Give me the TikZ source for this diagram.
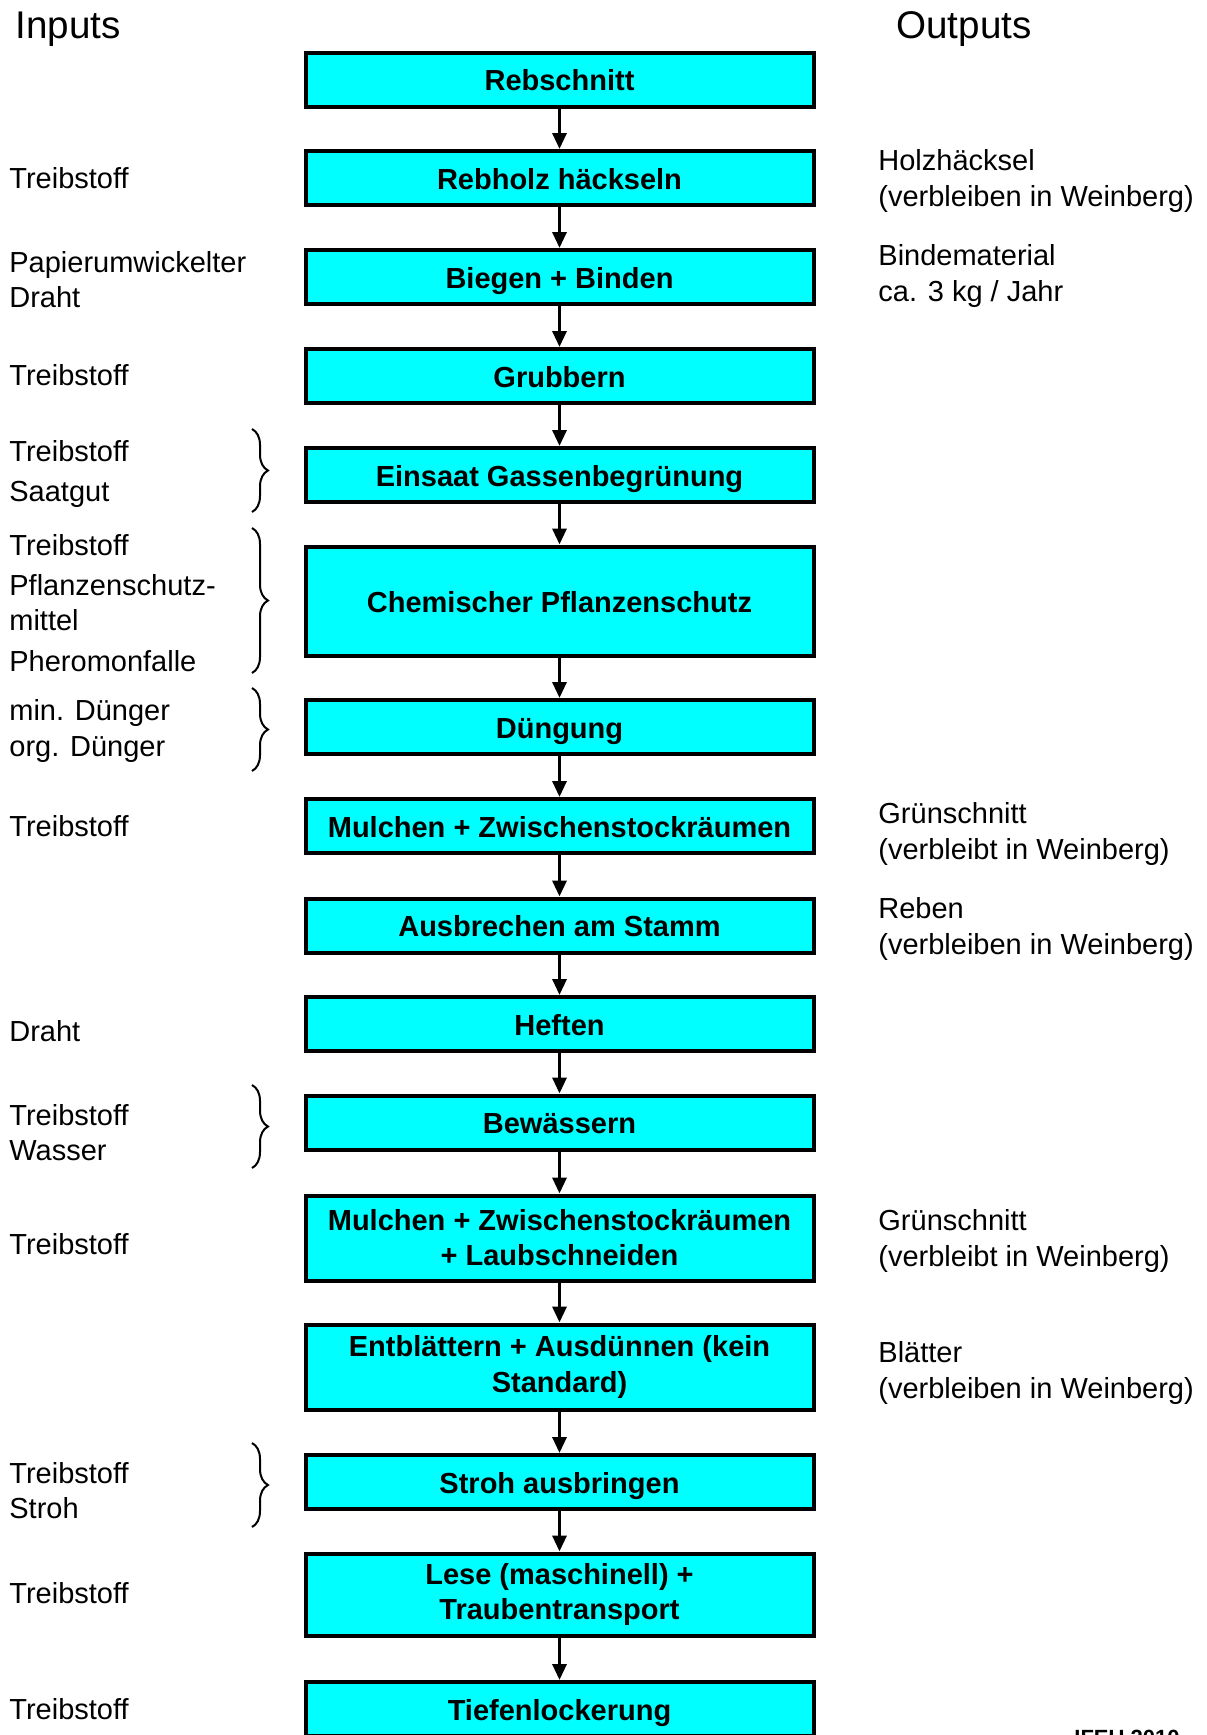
\documentclass[tikz,border=0pt]{standalone}
\usepackage{fontspec}
\setmainfont{Liberation Sans}
\usetikzlibrary{arrows.meta,decorations.pathreplacing}

\definecolor{stepcyan}{RGB}{0,255,255}
\tikzset{
  stepbox/.style={draw=black, line width=2pt, fill=stepcyan, minimum width=254pt,
    minimum height=27pt, inner sep=0pt, align=center, text height=14.4pt, text depth=3pt,
    font=\fontsize{14.5}{17.6}\selectfont\bfseries},
  twoline/.style={minimum height=42.5pt, text height=, text depth=},
  sidetext/.style={anchor=west, inner sep=0pt, align=left,
    font=\fontsize{14.5}{17.6}\selectfont},
  headtext/.style={anchor=west, inner sep=0pt, font=\fontsize{19.3}{22}\selectfont},
  flow/.style={line width=1.6pt, -{Triangle[length=8pt,width=7pt]}},
  group/.style={decorate, decoration={brace, amplitude=8pt}, line width=1pt},
}

\begin{document}
\begin{tikzpicture}[x=0.5pt, y=-0.5pt]
\useasboundingbox (0,0) rectangle (1206,1735);
% Headings
\node[headtext] (hin) at (15,29) {Inputs};
\node[headtext] (hout) at (896,29) {Outputs};
% Process steps
\node[stepbox] (b1) at (559.5,79.5) {Rebschnitt};
\node[stepbox] (b2) at (559.5,178) {Rebholz häckseln};
\node[stepbox] (b3) at (559.5,277) {Biegen + Binden};
\node[stepbox] (b4) at (559.5,376) {Grubbern};
\node[stepbox] (b5) at (559.5,475) {Einsaat Gassenbegrünung};
\node[stepbox, minimum height=54.5pt] (b6) at (559.5,601) {Chemischer Pflanzenschutz};
\node[stepbox] (b7) at (559.5,727) {Düngung};
\node[stepbox] (b8) at (559.5,826) {Mulchen + Zwischenstockräumen};
\node[stepbox] (b9) at (559.5,925.5) {Ausbrechen am Stamm};
\node[stepbox] (b10) at (559.5,1024) {Heften};
\node[stepbox] (b11) at (559.5,1122.5) {Bewässern};
\node[stepbox, twoline] (b12) at (559.5,1238) {Mulchen + Zwischenstockräumen\\+ Laubschneiden};
\node[stepbox, twoline] (b13) at (559.5,1367) {Entblättern + Ausdünnen (kein\\Standard)};
\node[stepbox] (b14) at (559.5,1482) {Stroh ausbringen};
\node[stepbox, twoline, minimum height=41pt] (b15) at (559.5,1594.5) {Lese (maschinell) +\\Traubentransport};
\node[stepbox] (b16) at (559.5,1709) {Tiefenlockerung};
% Arrows between steps
\foreach \i in {1,...,15}{
  \pgfmathtruncatemacro{\j}{\i+1}
  \draw[flow] (b\i.south) -- (b\j.north);
}
% Inputs
\node[sidetext] (in2) at (9,178) {Treibstoff};
\node[sidetext] (in3) at (9,280) {Papierumwickelter\\Draht};
\node[sidetext] (in4) at (9,375) {Treibstoff};
\node[sidetext] (in5) at (9,474) {Treibstoff\\[2.8pt]Saatgut};
\node[sidetext] (in6) at (9,603) {Treibstoff\\[2.5pt]Pflanzenschutz-\\mittel\\[2.5pt]Pheromonfalle};
\node[sidetext] (in7) at (9,731) {min. Dünger\\org. Dünger};
\node[sidetext] (in8) at (9,826) {Treibstoff};
\node[sidetext] (in10) at (9,1031) {Draht};
\node[sidetext] (in11) at (9,1133) {Treibstoff\\Wasser};
\node[sidetext] (in12) at (9,1244) {Treibstoff};
\node[sidetext] (in14) at (9,1491) {Treibstoff\\Stroh};
\node[sidetext] (in15) at (9,1593) {Treibstoff};
\node[sidetext] (in16) at (9,1709) {Treibstoff};
% Braces
\draw[group] (252,429) -- (252,512);
\draw[group] (252,528) -- (252,673);
\draw[group] (252,688) -- (252,771);
\draw[group] (252,1085) -- (252,1168);
\draw[group] (252,1443) -- (252,1527);
% Outputs
\node[sidetext] (out2) at (878,181) {Holzhäcksel\\(verbleiben in Weinberg)};
\node[sidetext] (out3) at (878,276) {Bindematerial\\ca. 3 kg / Jahr};
\node[sidetext] (out8) at (878,834) {Grünschnitt\\(verbleibt in Weinberg)};
\node[sidetext] (out9) at (878,929) {Reben\\(verbleiben in Weinberg)};
\node[sidetext] (out12) at (878,1241) {Grünschnitt\\(verbleibt in Weinberg)};
\node[sidetext] (out13) at (878,1373) {Blätter\\(verbleiben in Weinberg)};
% Source
\node[anchor=north, inner sep=0pt, font=\fontsize{11}{13}\selectfont\bfseries] (src) at (1127,1730) {IFEU 2010};
\end{tikzpicture}
\end{document}
